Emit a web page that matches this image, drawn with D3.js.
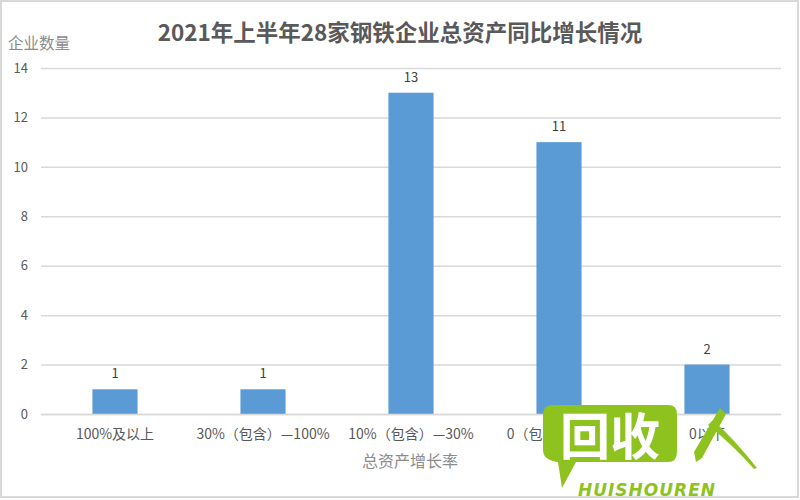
<!DOCTYPE html>
<html><head><meta charset="utf-8">
<script src="https://cdn.jsdelivr.net/npm/d3@7"></script>
<style>body{margin:0;background:#fff}svg{display:block}</style>
</head><body>
<svg id="c" width="800" height="500"></svg>
<script>
const categories = ["100%及以上","30%（包含）—100%","10%（包含）—30%","0（包含）—10%","0以下"];
const values = [1,1,13,11,2];
const yTicks = [0,2,4,6,8,10,12,14];
const titleText = "2021年上半年28家钢铁企业总资产同比增长情况";
const yTitle = "企业数量";
const xTitle = "总资产增长率";

const svg = d3.select("#c");
const font = "'Noto Sans CJK SC','Noto Sans',sans-serif";
svg.append("rect").attr("x",1).attr("y",1).attr("width",797).attr("height",496)
  .attr("fill","#fff").attr("stroke","#d9d9d9").attr("stroke-width",2);

const m = {l:41, r:781, t:68, b:414};
const x = d3.scaleBand().domain(categories).range([m.l,m.r]).paddingInner(0.695).paddingOuter(0.3475);
const y = d3.scaleLinear().domain([0,14]).range([m.b,m.t]);

// gridlines
svg.append("g").selectAll("line").data(yTicks).join("line")
  .attr("x1",m.l).attr("x2",m.r).attr("y1",d=>y(d)+0.5).attr("y2",d=>y(d)+0.5)
  .attr("stroke","#d9d9d9").attr("stroke-width",1.5);

// y axis labels
const ya = svg.append("g").attr("transform",`translate(28,0)`)
  .call(d3.axisLeft(y).tickValues(yTicks).tickSize(0).tickPadding(0));
ya.select(".domain").remove();
ya.selectAll("text").attr("font-family",font).attr("font-size",13).attr("fill","#595959");

// bars
svg.append("g").selectAll("rect").data(values).join("rect")
  .attr("x",(d,i)=>x(categories[i])).attr("width",x.bandwidth())
  .attr("y",d=>y(d)).attr("height",d=>y(0)-y(d)).attr("fill","#5b9bd5");

// data labels
svg.append("g").selectAll("text").data(values).join("text")
  .attr("x",(d,i)=>x(categories[i])+x.bandwidth()/2).attr("y",d=>y(d)-11)
  .attr("text-anchor","middle").attr("font-family",font).attr("font-size",13).attr("fill","#404040")
  .text(d=>d);

// x axis
const xa = svg.append("g").attr("transform",`translate(0,${m.b})`)
  .call(d3.axisBottom(x).tickSize(0).tickPadding(15));
xa.select(".domain").attr("stroke","#d9d9d9").attr("stroke-width",1.5);
xa.selectAll("text").attr("font-family",font).attr("font-size",14).attr("fill","#595959");

// titles
svg.append("text").attr("x",400).attr("y",41).attr("text-anchor","middle")
  .attr("font-family",font).attr("font-weight","bold").attr("font-size",22.5).attr("fill","#595959").text(titleText);
svg.append("text").attr("x",8).attr("y",49)
  .attr("font-family",font).attr("font-size",15.5).attr("fill","#8c8c8c").text(yTitle);
svg.append("text").attr("x",410).attr("y",467).attr("text-anchor","middle")
  .attr("font-family",font).attr("font-size",16).attr("fill","#8c8c8c").text(xTitle);

// watermark
const wm = svg.append("g");
const g = "#8dc21f";
wm.append("path").attr("fill",g)
  .attr("d","M553,405 H668 Q677,405 677,414 V452 Q677,462 668,462 H576 L562,488 L558,462 Q543,460 543,450 V414 Q543,405 553,405 Z");
wm.append("text").attr("x",610).attr("y",455).attr("text-anchor","middle")
  .attr("font-family",font).attr("font-weight","bold").attr("font-size",50).attr("fill","#fff").text("回收");
wm.append("text").attr("x",647).attr("y",496).attr("text-anchor","middle")
  .attr("font-family","'DejaVu Sans',sans-serif").attr("font-weight","bold").attr("font-style","italic")
  .attr("font-size",17).attr("letter-spacing",1).attr("fill",g).text("HUISHOUREN");
wm.append("path").attr("fill",g)
  .attr("d","M720,408 L726,414 L702,458 L696,462 L694,452 Z M708,425 L713,420 Q735,440 757,468 L754,469 Q735,447 708,425 Z");
</script>
</body></html>
